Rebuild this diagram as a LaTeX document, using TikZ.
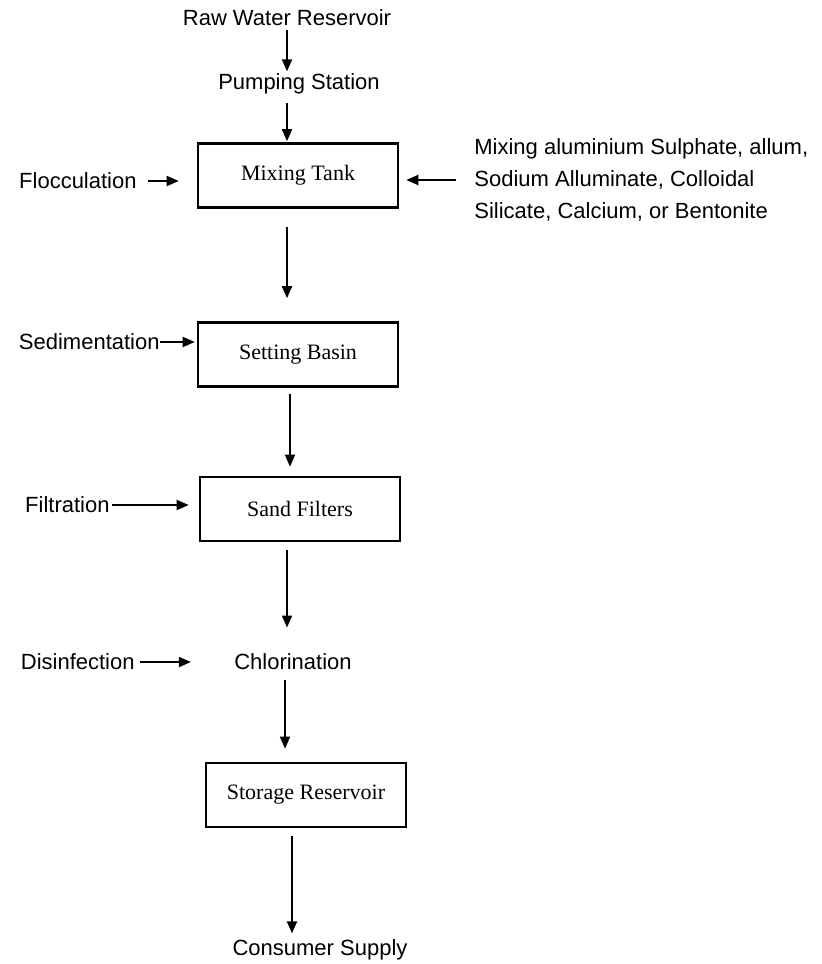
\documentclass[tikz,border=0pt]{standalone}
\usepackage{fontspec}
\setmainfont{Liberation Serif}
\setsansfont{Liberation Sans}
\usetikzlibrary{arrows.meta}
\begin{document}
\begin{tikzpicture}[x=0.5pt,y=-0.5pt,
  box node/.style={rectangle,draw,line width=1.3pt,minimum width=100pt,minimum height=32pt,font=\fontsize{11}{13}\selectfont},
  text node/.style={font=\sffamily\fontsize{11}{16}\selectfont,inner sep=0pt},
  flow/.style={-{Triangle[length=6pt,width=5pt]},line width=0.9pt}]

  \useasboundingbox (0,0) rectangle (821,964);

  \node[text node] (raw) at (287,18) {Raw Water Reservoir};
  \node[text node] (pump) at (299,84) {Pumping Station};
  \node[box node] (mix) at (298,175.5) {Mixing Tank};
  \node[text node,anchor=east] (floc) at (137,181) {Flocculation};
  \node[text node,anchor=west,align=left] (chem) at (474,180) {Mixing aluminium Sulphate, allum,\\Sodium Alluminate, Colloidal\\Silicate, Calcium, or Bentonite};
  \node[box node] (settle) at (298,354.5) {Setting Basin};
  \node[text node,anchor=east] (sed) at (160,342) {Sedimentation};
  \node[box node] (sand) at (300,509) {Sand Filters};
  \node[text node,anchor=east] (filt) at (110,505) {Filtration};
  \node[text node] (chlor) at (293,662) {Chlorination};
  \node[text node,anchor=east] (disinf) at (135,662) {Disinfection};
  \node[box node] (store) at (306,795) {Storage Reservoir};
  \node[text node] (cons) at (320,950) {Consumer Supply};

  \path[flow]
   (raw.south) edge[shorten <=2pt,shorten >=1pt] (raw.south |- pump.north)
   (raw.south |- pump.south) edge[shorten <=4pt,shorten >=0.5pt] (raw.south |- mix.north)
   (raw.south |- mix.south) edge[shorten <=9pt,shorten >=11.5pt] (raw.south |- settle.north)
   ([xshift=-4pt]settle.south) edge[shorten <=3pt,shorten >=4.5pt] ([xshift=-4pt]settle.south |- sand.north)
   (raw.south |- sand.south) edge[shorten <=4pt,shorten >=13pt] (raw.south |- chlor.north)
   ([xshift=-4pt]chlor.south) edge[shorten <=5pt,shorten >=6.5pt] ([xshift=-4pt]chlor.south |- store.north)
   ([xshift=-7pt]store.south) edge[shorten <=4pt,shorten >=3pt] ([xshift=-7pt]store.south |- cons.north)
   (floc.east) edge[shorten <=5.5pt,shorten >=9pt] (floc.east -| mix.west)
   (chem.west) edge[shorten <=9pt,shorten >=3.5pt] (chem.west -| mix.east)
   (sed.east) edge[shorten >=1pt] (sed.east -| settle.west)
   (filt.east) edge[shorten <=1pt,shorten >=5pt] (filt.east -| sand.west)
   (disinf.east) edge[shorten <=2.5pt,shorten >=21.5pt] (disinf.east -| chlor.west);
\end{tikzpicture}
\end{document}
